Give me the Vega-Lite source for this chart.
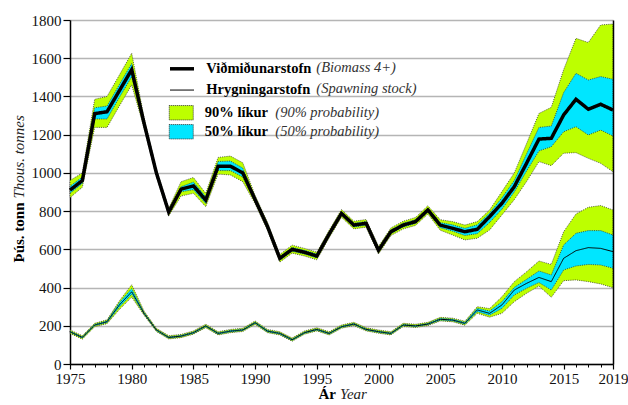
{
  "$schema": "https://vega.github.io/schema/vega-lite/v6.json",
  "width": 543,
  "height": 344,
  "autosize": {"type": "none"},
  "padding": {"left": 70, "top": 20, "right": 15, "bottom": 41},
  "background": "white",
  "config": {"view": {"stroke": null}, "font": "Liberation Serif, Times New Roman, serif",
    "axis": {"labelFont": "Liberation Serif, Times New Roman, serif", "titleFont": "Liberation Serif, Times New Roman, serif"},
    "legend": {"labelFont": "Liberation Serif, Times New Roman, serif"}},
  "data": {"values": [
    {"year":1975,"series":"Viðmiðunarstofn","en":"(Biomass 4+)","band":"(90% probability)","med":910,"lo90":870,"hi90":960,"lo50":893,"hi50":930},
    {"year":1976,"series":"Viðmiðunarstofn","en":"(Biomass 4+)","band":"(90% probability)","med":960,"lo90":925,"hi90":1000,"lo50":945,"hi50":978},
    {"year":1977,"series":"Viðmiðunarstofn","en":"(Biomass 4+)","band":"(90% probability)","med":1310,"lo90":1238,"hi90":1385,"lo50":1282,"hi50":1341},
    {"year":1978,"series":"Viðmiðunarstofn","en":"(Biomass 4+)","band":"(90% probability)","med":1320,"lo90":1238,"hi90":1400,"lo50":1282,"hi50":1350},
    {"year":1979,"series":"Viðmiðunarstofn","en":"(Biomass 4+)","band":"(90% probability)","med":1430,"lo90":1350,"hi90":1512,"lo50":1395,"hi50":1462},
    {"year":1980,"series":"Viðmiðunarstofn","en":"(Biomass 4+)","band":"(90% probability)","med":1540,"lo90":1460,"hi90":1626,"lo50":1503,"hi50":1573},
    {"year":1981,"series":"Viðmiðunarstofn","en":"(Biomass 4+)","band":"(90% probability)","med":1260,"lo90":1235,"hi90":1290,"lo50":1248,"hi50":1274},
    {"year":1982,"series":"Viðmiðunarstofn","en":"(Biomass 4+)","band":"(90% probability)","med":1000,"lo90":980,"hi90":1020,"lo50":990,"hi50":1010},
    {"year":1983,"series":"Viðmiðunarstofn","en":"(Biomass 4+)","band":"(90% probability)","med":795,"lo90":775,"hi90":815,"lo50":785,"hi50":805},
    {"year":1984,"series":"Viðmiðunarstofn","en":"(Biomass 4+)","band":"(90% probability)","med":915,"lo90":879,"hi90":954,"lo50":901,"hi50":928},
    {"year":1985,"series":"Viðmiðunarstofn","en":"(Biomass 4+)","band":"(90% probability)","med":932,"lo90":893,"hi90":976,"lo50":912,"hi50":952},
    {"year":1986,"series":"Viðmiðunarstofn","en":"(Biomass 4+)","band":"(90% probability)","med":858,"lo90":823,"hi90":893,"lo50":840,"hi50":875},
    {"year":1987,"series":"Viðmiðunarstofn","en":"(Biomass 4+)","band":"(90% probability)","med":1035,"lo90":994,"hi90":1081,"lo50":1012,"hi50":1060},
    {"year":1988,"series":"Viðmiðunarstofn","en":"(Biomass 4+)","band":"(90% probability)","med":1035,"lo90":989,"hi90":1088,"lo50":1012,"hi50":1062},
    {"year":1989,"series":"Viðmiðunarstofn","en":"(Biomass 4+)","band":"(90% probability)","med":1000,"lo90":954,"hi90":1053,"lo50":978,"hi50":1025},
    {"year":1990,"series":"Viðmiðunarstofn","en":"(Biomass 4+)","band":"(90% probability)","med":860,"lo90":838,"hi90":882,"lo50":850,"hi50":872},
    {"year":1991,"series":"Viðmiðunarstofn","en":"(Biomass 4+)","band":"(90% probability)","med":720,"lo90":700,"hi90":742,"lo50":710,"hi50":730},
    {"year":1992,"series":"Viðmiðunarstofn","en":"(Biomass 4+)","band":"(90% probability)","med":553,"lo90":533,"hi90":573,"lo50":543,"hi50":563},
    {"year":1993,"series":"Viðmiðunarstofn","en":"(Biomass 4+)","band":"(90% probability)","med":600,"lo90":580,"hi90":622,"lo50":590,"hi50":610},
    {"year":1994,"series":"Viðmiðunarstofn","en":"(Biomass 4+)","band":"(90% probability)","med":585,"lo90":565,"hi90":605,"lo50":575,"hi50":595},
    {"year":1995,"series":"Viðmiðunarstofn","en":"(Biomass 4+)","band":"(90% probability)","med":565,"lo90":545,"hi90":585,"lo50":555,"hi50":575},
    {"year":1996,"series":"Viðmiðunarstofn","en":"(Biomass 4+)","band":"(90% probability)","med":680,"lo90":660,"hi90":700,"lo50":670,"hi50":690},
    {"year":1997,"series":"Viðmiðunarstofn","en":"(Biomass 4+)","band":"(90% probability)","med":788,"lo90":768,"hi90":808,"lo50":778,"hi50":798},
    {"year":1998,"series":"Viðmiðunarstofn","en":"(Biomass 4+)","band":"(90% probability)","med":727,"lo90":707,"hi90":747,"lo50":717,"hi50":737},
    {"year":1999,"series":"Viðmiðunarstofn","en":"(Biomass 4+)","band":"(90% probability)","med":736,"lo90":716,"hi90":756,"lo50":726,"hi50":746},
    {"year":2000,"series":"Viðmiðunarstofn","en":"(Biomass 4+)","band":"(90% probability)","med":595,"lo90":575,"hi90":615,"lo50":585,"hi50":605},
    {"year":2001,"series":"Viðmiðunarstofn","en":"(Biomass 4+)","band":"(90% probability)","med":692,"lo90":672,"hi90":712,"lo50":682,"hi50":702},
    {"year":2002,"series":"Viðmiðunarstofn","en":"(Biomass 4+)","band":"(90% probability)","med":727,"lo90":707,"hi90":747,"lo50":717,"hi50":737},
    {"year":2003,"series":"Viðmiðunarstofn","en":"(Biomass 4+)","band":"(90% probability)","med":745,"lo90":725,"hi90":767,"lo50":735,"hi50":755},
    {"year":2004,"series":"Viðmiðunarstofn","en":"(Biomass 4+)","band":"(90% probability)","med":806,"lo90":785,"hi90":828,"lo50":796,"hi50":816},
    {"year":2005,"series":"Viðmiðunarstofn","en":"(Biomass 4+)","band":"(90% probability)","med":727,"lo90":700,"hi90":755,"lo50":713,"hi50":740},
    {"year":2006,"series":"Viðmiðunarstofn","en":"(Biomass 4+)","band":"(90% probability)","med":710,"lo90":675,"hi90":745,"lo50":695,"hi50":728},
    {"year":2007,"series":"Viðmiðunarstofn","en":"(Biomass 4+)","band":"(90% probability)","med":692,"lo90":649,"hi90":727,"lo50":672,"hi50":710},
    {"year":2008,"series":"Viðmiðunarstofn","en":"(Biomass 4+)","band":"(90% probability)","med":705,"lo90":658,"hi90":745,"lo50":682,"hi50":728},
    {"year":2009,"series":"Viðmiðunarstofn","en":"(Biomass 4+)","band":"(90% probability)","med":771,"lo90":701,"hi90":806,"lo50":740,"hi50":790},
    {"year":2010,"series":"Viðmiðunarstofn","en":"(Biomass 4+)","band":"(90% probability)","med":841,"lo90":780,"hi90":902,"lo50":810,"hi50":870},
    {"year":2011,"series":"Viðmiðunarstofn","en":"(Biomass 4+)","band":"(90% probability)","med":928,"lo90":860,"hi90":1000,"lo50":900,"hi50":960},
    {"year":2012,"series":"Viðmiðunarstofn","en":"(Biomass 4+)","band":"(90% probability)","med":1051,"lo90":955,"hi90":1154,"lo50":1010,"hi50":1100},
    {"year":2013,"series":"Viðmiðunarstofn","en":"(Biomass 4+)","band":"(90% probability)","med":1177,"lo90":1059,"hi90":1311,"lo50":1115,"hi50":1238},
    {"year":2014,"series":"Viðmiðunarstofn","en":"(Biomass 4+)","band":"(90% probability)","med":1181,"lo90":1038,"hi90":1343,"lo50":1137,"hi50":1245},
    {"year":2015,"series":"Viðmiðunarstofn","en":"(Biomass 4+)","band":"(90% probability)","med":1303,"lo90":1103,"hi90":1540,"lo50":1215,"hi50":1420},
    {"year":2016,"series":"Viðmiðunarstofn","en":"(Biomass 4+)","band":"(90% probability)","med":1385,"lo90":1106,"hi90":1704,"lo50":1242,"hi50":1521},
    {"year":2017,"series":"Viðmiðunarstofn","en":"(Biomass 4+)","band":"(90% probability)","med":1333,"lo90":1076,"hi90":1682,"lo50":1198,"hi50":1486},
    {"year":2018,"series":"Viðmiðunarstofn","en":"(Biomass 4+)","band":"(90% probability)","med":1359,"lo90":1050,"hi90":1774,"lo50":1224,"hi50":1504},
    {"year":2019,"series":"Viðmiðunarstofn","en":"(Biomass 4+)","band":"(90% probability)","med":1329,"lo90":1006,"hi90":1779,"lo50":1193,"hi50":1490},
    {"year":1975,"series":"Hrygningarstofn","en":"(Spawning stock)","band":"(90% probability)","med":169,"lo90":160,"hi90":178,"lo50":165,"hi50":173},
    {"year":1976,"series":"Hrygningarstofn","en":"(Spawning stock)","band":"(90% probability)","med":139,"lo90":130,"hi90":148,"lo50":135,"hi50":143},
    {"year":1977,"series":"Hrygningarstofn","en":"(Spawning stock)","band":"(90% probability)","med":204,"lo90":195,"hi90":213,"lo50":200,"hi50":208},
    {"year":1978,"series":"Hrygningarstofn","en":"(Spawning stock)","band":"(90% probability)","med":221,"lo90":211,"hi90":231,"lo50":216,"hi50":226},
    {"year":1979,"series":"Hrygningarstofn","en":"(Spawning stock)","band":"(90% probability)","med":309,"lo90":285,"hi90":330,"lo50":298,"hi50":320},
    {"year":1980,"series":"Hrygningarstofn","en":"(Spawning stock)","band":"(90% probability)","med":378,"lo90":350,"hi90":415,"lo50":365,"hi50":395},
    {"year":1981,"series":"Hrygningarstofn","en":"(Spawning stock)","band":"(90% probability)","med":265,"lo90":255,"hi90":277,"lo50":260,"hi50":271},
    {"year":1982,"series":"Hrygningarstofn","en":"(Spawning stock)","band":"(90% probability)","med":178,"lo90":170,"hi90":187,"lo50":174,"hi50":182},
    {"year":1983,"series":"Hrygningarstofn","en":"(Spawning stock)","band":"(90% probability)","med":139,"lo90":131,"hi90":148,"lo50":135,"hi50":143},
    {"year":1984,"series":"Hrygningarstofn","en":"(Spawning stock)","band":"(90% probability)","med":146,"lo90":138,"hi90":155,"lo50":142,"hi50":150},
    {"year":1985,"series":"Hrygningarstofn","en":"(Spawning stock)","band":"(90% probability)","med":164,"lo90":156,"hi90":173,"lo50":160,"hi50":168},
    {"year":1986,"series":"Hrygningarstofn","en":"(Spawning stock)","band":"(90% probability)","med":199,"lo90":190,"hi90":208,"lo50":195,"hi50":203},
    {"year":1987,"series":"Hrygningarstofn","en":"(Spawning stock)","band":"(90% probability)","med":160,"lo90":152,"hi90":169,"lo50":156,"hi50":164},
    {"year":1988,"series":"Hrygningarstofn","en":"(Spawning stock)","band":"(90% probability)","med":172,"lo90":164,"hi90":181,"lo50":168,"hi50":176},
    {"year":1989,"series":"Hrygningarstofn","en":"(Spawning stock)","band":"(90% probability)","med":178,"lo90":170,"hi90":187,"lo50":174,"hi50":182},
    {"year":1990,"series":"Hrygningarstofn","en":"(Spawning stock)","band":"(90% probability)","med":216,"lo90":207,"hi90":225,"lo50":212,"hi50":220},
    {"year":1991,"series":"Hrygningarstofn","en":"(Spawning stock)","band":"(90% probability)","med":172,"lo90":164,"hi90":181,"lo50":168,"hi50":176},
    {"year":1992,"series":"Hrygningarstofn","en":"(Spawning stock)","band":"(90% probability)","med":160,"lo90":152,"hi90":169,"lo50":156,"hi50":164},
    {"year":1993,"series":"Hrygningarstofn","en":"(Spawning stock)","band":"(90% probability)","med":127,"lo90":119,"hi90":136,"lo50":123,"hi50":131},
    {"year":1994,"series":"Hrygningarstofn","en":"(Spawning stock)","band":"(90% probability)","med":164,"lo90":156,"hi90":173,"lo50":160,"hi50":168},
    {"year":1995,"series":"Hrygningarstofn","en":"(Spawning stock)","band":"(90% probability)","med":181,"lo90":173,"hi90":190,"lo50":177,"hi50":185},
    {"year":1996,"series":"Hrygningarstofn","en":"(Spawning stock)","band":"(90% probability)","med":160,"lo90":152,"hi90":169,"lo50":156,"hi50":164},
    {"year":1997,"series":"Hrygningarstofn","en":"(Spawning stock)","band":"(90% probability)","med":195,"lo90":187,"hi90":204,"lo50":191,"hi50":199},
    {"year":1998,"series":"Hrygningarstofn","en":"(Spawning stock)","band":"(90% probability)","med":209,"lo90":201,"hi90":218,"lo50":205,"hi50":213},
    {"year":1999,"series":"Hrygningarstofn","en":"(Spawning stock)","band":"(90% probability)","med":181,"lo90":173,"hi90":190,"lo50":177,"hi50":185},
    {"year":2000,"series":"Hrygningarstofn","en":"(Spawning stock)","band":"(90% probability)","med":169,"lo90":161,"hi90":178,"lo50":165,"hi50":173},
    {"year":2001,"series":"Hrygningarstofn","en":"(Spawning stock)","band":"(90% probability)","med":160,"lo90":152,"hi90":169,"lo50":156,"hi50":164},
    {"year":2002,"series":"Hrygningarstofn","en":"(Spawning stock)","band":"(90% probability)","med":204,"lo90":196,"hi90":213,"lo50":200,"hi50":208},
    {"year":2003,"series":"Hrygningarstofn","en":"(Spawning stock)","band":"(90% probability)","med":199,"lo90":191,"hi90":208,"lo50":195,"hi50":203},
    {"year":2004,"series":"Hrygningarstofn","en":"(Spawning stock)","band":"(90% probability)","med":209,"lo90":201,"hi90":218,"lo50":205,"hi50":213},
    {"year":2005,"series":"Hrygningarstofn","en":"(Spawning stock)","band":"(90% probability)","med":234,"lo90":225,"hi90":244,"lo50":229,"hi50":239},
    {"year":2006,"series":"Hrygningarstofn","en":"(Spawning stock)","band":"(90% probability)","med":230,"lo90":221,"hi90":240,"lo50":225,"hi50":235},
    {"year":2007,"series":"Hrygningarstofn","en":"(Spawning stock)","band":"(90% probability)","med":213,"lo90":203,"hi90":224,"lo50":208,"hi50":218},
    {"year":2008,"series":"Hrygningarstofn","en":"(Spawning stock)","band":"(90% probability)","med":283,"lo90":265,"hi90":300,"lo50":274,"hi50":292},
    {"year":2009,"series":"Hrygningarstofn","en":"(Spawning stock)","band":"(90% probability)","med":265,"lo90":245,"hi90":290,"lo50":255,"hi50":277},
    {"year":2010,"series":"Hrygningarstofn","en":"(Spawning stock)","band":"(90% probability)","med":309,"lo90":265,"hi90":352,"lo50":291,"hi50":326},
    {"year":2011,"series":"Hrygningarstofn","en":"(Spawning stock)","band":"(90% probability)","med":387,"lo90":326,"hi90":431,"lo50":361,"hi50":401},
    {"year":2012,"series":"Hrygningarstofn","en":"(Spawning stock)","band":"(90% probability)","med":422,"lo90":370,"hi90":483,"lo50":396,"hi50":443},
    {"year":2013,"series":"Hrygningarstofn","en":"(Spawning stock)","band":"(90% probability)","med":453,"lo90":408,"hi90":539,"lo50":426,"hi50":487},
    {"year":2014,"series":"Hrygningarstofn","en":"(Spawning stock)","band":"(90% probability)","med":431,"lo90":349,"hi90":521,"lo50":387,"hi50":466},
    {"year":2015,"series":"Hrygningarstofn","en":"(Spawning stock)","band":"(90% probability)","med":553,"lo90":436,"hi90":692,"lo50":492,"hi50":623},
    {"year":2016,"series":"Hrygningarstofn","en":"(Spawning stock)","band":"(90% probability)","med":593,"lo90":440,"hi90":785,"lo50":513,"hi50":684},
    {"year":2017,"series":"Hrygningarstofn","en":"(Spawning stock)","band":"(90% probability)","med":609,"lo90":431,"hi90":820,"lo50":521,"hi50":698},
    {"year":2018,"series":"Hrygningarstofn","en":"(Spawning stock)","band":"(90% probability)","med":605,"lo90":419,"hi90":829,"lo50":518,"hi50":698},
    {"year":2019,"series":"Hrygningarstofn","en":"(Spawning stock)","band":"(90% probability)","med":588,"lo90":399,"hi90":806,"lo50":501,"hi50":675}
  ]},
  "resolve": {"axis": {"x": "independent", "y": "independent"}},
  "layer": [
    {
      "mark": {"type": "area", "stroke": "#333333", "strokeWidth": 0.8, "strokeDash": [1, 1.2]},
      "encoding": {
        "x": {"field": "year", "type": "quantitative", "scale": {"domain": [1975, 2019], "nice": false, "zero": false},
          "axis": {"orient": "bottom", "values": [1975,1980,1985,1990,1995,2000,2005,2010,2015,2019], "format": "d", "tickSize": 5, "tickColor": "black", "tickWidth": 1.2,
            "domainColor": "black", "domainWidth": 1.5, "labelFontSize": 15, "labelColor": "#111", "labelPadding": 2,
            "labelFlush": false, "labelOverlap": false, "grid": false, "zindex": 1,
            "title": "Ár", "titleFontSize": 15, "titleFontWeight": "bold", "titleColor": "black",
            "titleX": 248, "titleY": 34, "titleAlign": "left", "titleBaseline": "alphabetic", "titleAnchor": "start"}},
        "y": {"field": "lo90", "type": "quantitative", "scale": {"domain": [0, 1800], "nice": false, "zero": true},
          "axis": {"orient": "left", "values": [0,200,400,600,800,1000,1200,1400,1600,1800], "format": "d", "tickSize": 7, "tickColor": "black", "tickWidth": 1.2,
            "domainColor": "black", "domainWidth": 1.5, "labelFontSize": 15, "labelColor": "#111", "labelPadding": 2,
            "grid": true, "gridColor": "#b5b5b5", "gridWidth": 1.5,
            "title": "Þús. tonn", "titleFontSize": 15, "titleFontWeight": "bold", "titleColor": "black",
            "titleAngle": -90, "titleX": -46.5, "titleY": 242, "titleAlign": "left", "titleBaseline": "alphabetic", "titleAnchor": "start"}},
        "y2": {"field": "hi90"},
        "detail": {"field": "series"},
        "fill": {"datum": "90% líkur", "type": "nominal",
          "scale": {"domain": ["90% líkur", "50% líkur"], "range": ["#bdff00", "#00e6ff"]},
          "legend": {"orient": "none", "legendX": 104, "legendY": 85.5, "title": null, "padding": 0,
            "symbolType": "M-2,-1.2H2V1.2H-2Z", "symbolSize": 144, "symbolStrokeColor": "#333333", "symbolStrokeWidth": 1, "symbolDash": [1, 1],
            "labelFontSize": 14.5, "labelFontWeight": "bold", "labelColor": "black", "labelOffset": 16.3, "rowPadding": 0}}
      }
    },
    {
      "mark": {"type": "area", "stroke": "#333333", "strokeWidth": 0.8, "strokeDash": [1, 1.2]},
      "encoding": {
        "x": {"field": "year", "type": "quantitative",
          "axis": {"orient": "bottom", "values": [1975,1976,1977,1978,1979,1980,1981,1982,1983,1984,1985,1986,1987,1988,1989,1990,1991,1992,1993,1994,1995,1996,1997,1998,1999,2000,2001,2002,2003,2004,2005,2006,2007,2008,2009,2010,2011,2012,2013,2014,2015,2016,2017,2018,2019],
            "tickSize": 3, "tickColor": "black", "tickWidth": 1, "labels": false, "domain": false, "grid": false, "zindex": 1,
            "title": "Year", "titleFontSize": 15, "titleFontWeight": "normal", "titleFontStyle": "italic", "titleColor": "#222",
            "titleX": 269.5, "titleY": 34, "titleAlign": "left", "titleBaseline": "alphabetic", "titleAnchor": "start"}},
        "y": {"field": "lo50", "type": "quantitative",
          "axis": {"orient": "left", "labels": false, "ticks": false, "domain": false, "grid": false,
            "title": "Thous. tonnes", "titleFontSize": 15, "titleFontWeight": "normal", "titleFontStyle": "italic", "titleColor": "#222",
            "titleAngle": -90, "titleX": -46.5, "titleY": 178, "titleAlign": "left", "titleBaseline": "alphabetic", "titleAnchor": "start"}},
        "y2": {"field": "hi50"},
        "detail": {"field": "series"},
        "fill": {"datum": "50% líkur", "type": "nominal"}
      }
    },
    {
      "mark": {"type": "line", "color": "black"},
      "encoding": {
        "x": {"field": "year", "type": "quantitative", "axis": null},
        "y": {"field": "med", "type": "quantitative",
          "axis": {"orient": "right", "labels": false, "ticks": false, "grid": false, "domain": true, "domainColor": "black", "domainWidth": 1.5, "title": null, "zindex": 1}},
        "strokeWidth": {"field": "series", "type": "ordinal",
          "scale": {"domain": ["Viðmiðunarstofn", "Hrygningarstofn"], "range": [3.5, 1]},
          "legend": {"orient": "none", "legendX": 104, "legendY": 40.8, "title": null, "padding": 0,
            "symbolType": "M-2,0H2", "symbolSize": 144, "symbolStrokeColor": "black",
            "labelFontSize": 14.5, "labelFontWeight": "bold", "labelColor": "black", "labelOffset": 16.3, "rowPadding": 6}},
        "opacity": {"field": "en", "type": "ordinal",
          "scale": {"domain": ["(Biomass 4+)", "(Spawning stock)"], "range": [1, 1]},
          "legend": {"orient": "none", "legendX": 215.5, "legendY": 40.8, "title": null, "padding": 0,
            "symbolType": "M-2,0H2", "symbolSize": 144, "symbolStrokeColor": "transparent", "symbolFillColor": "transparent",
            "labelFontSize": 14.5, "labelFontStyle": "italic", "labelColor": "#333333", "labelOffset": 16.3, "rowPadding": 6}},
        "strokeDash": {"field": "band", "type": "nominal",
          "scale": {"domain": ["(90% probability)", "(50% probability)"], "range": [[1, 0], [1, 0]]},
          "legend": {"orient": "none", "legendX": 174.5, "legendY": 85.5, "title": null, "padding": 0,
            "symbolType": "M-2,0H2", "symbolSize": 144, "symbolStrokeColor": "transparent", "symbolFillColor": "transparent",
            "labelFontSize": 14.5, "labelFontStyle": "italic", "labelColor": "#333333", "labelOffset": 16.3, "rowPadding": 4}}
      }
    }
  ]
}
